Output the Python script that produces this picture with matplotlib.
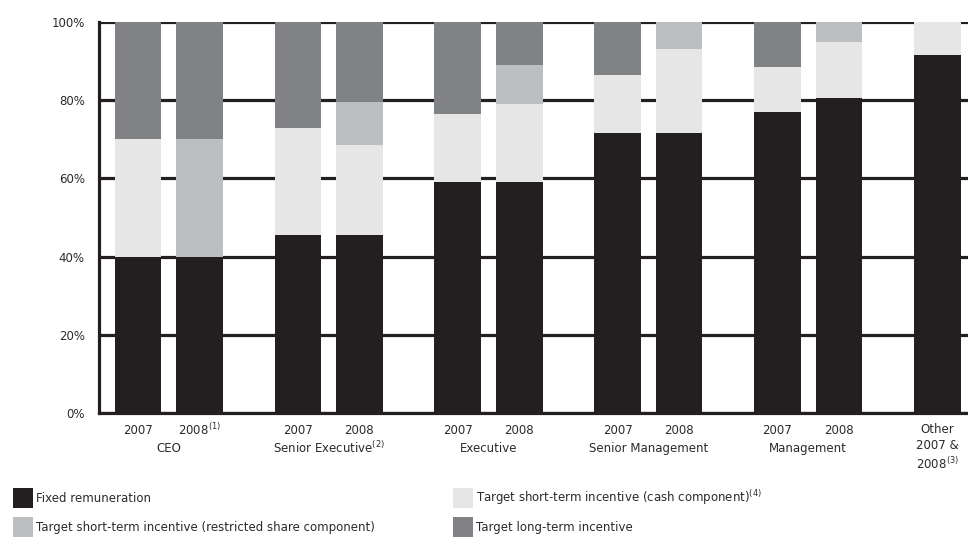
import matplotlib.pyplot as plt
from matplotlib.patches import Rectangle

plt.rcParams['font.family'] = ['DejaVu Sans']

# remuneration mix per role and year (% of total target pay)
years = ['2007', '2008$^{(1)}$', '2007', '2008', '2007', '2008',
         '2007', '2008', '2007', '2008', '']
groups = ['CEO', 'Senior Executive$^{(2)}$', 'Executive', 'Senior Management', 'Management']
fixed = [40, 40, 45.5, 45.5, 59, 59, 71.5, 71.5, 77, 80.5, 91.5]
sti_cash = [30, 0, 27.5, 23, 17.5, 20, 15, 21.5, 11.5, 14.5, 8.5]
sti_shares = [0, 30, 0, 11, 0, 10, 0, 7, 0, 5, 0]
lti = [30, 30, 27, 20.5, 23.5, 11, 13.5, 0, 11.5, 0, 0]

positions = [0, 1, 2.6, 3.6, 5.2, 6.2, 7.8, 8.8, 10.4, 11.4, 13.0]

c_fixed = '#231f20'
c_cash = '#e6e6e7'
c_shares = '#bcbec0'
c_lti = '#808285'
c_text = '#2a2a2a'
fs = 8.5

fig = plt.figure(figsize=(9.68, 5.37), dpi=100)
ax = fig.add_axes([0.102, 0.231, 0.898, 0.728])

w = 0.76
bottom = [0] * len(fixed)
for vals, col in [(fixed, c_fixed), (sti_cash, c_cash), (sti_shares, c_shares), (lti, c_lti)]:
    ax.bar(positions, vals, w, bottom=bottom, color=col, linewidth=0, zorder=3)
    bottom = [b + v for b, v in zip(bottom, vals)]

ax.set_xlim(-0.64, 13.5)
ax.set_ylim(0, 100)
ax.set_yticks([0, 20, 40, 60, 80, 100])
ax.set_yticklabels(['0%', '20%', '40%', '60%', '80%', '100%'], fontsize=fs, color=c_text)
ax.yaxis.grid(True, color=c_fixed, linewidth=2.3)
ax.set_axisbelow(True)
ax.tick_params(axis='y', length=0, pad=10)
ax.set_xticks([])
for s in ['top', 'right']:
    ax.spines[s].set_visible(False)
for s in ['left', 'bottom']:
    ax.spines[s].set_linewidth(2.3)
    ax.spines[s].set_color(c_fixed)
    ax.spines[s].set_zorder(4)

# year labels under each bar and group names under each pair
for x, yr in zip(positions, years):
    if yr:
        ax.text(x, -4.4, yr, ha='center', va='center', fontsize=fs, color=c_text)
for i, g in enumerate(groups):
    x = (positions[2 * i] + positions[2 * i + 1]) / 2
    ax.text(x, -9, g, ha='center', va='center', fontsize=fs, color=c_text)
ax.text(positions[-1], -2.6, 'Other\n2007 &\n2008$^{(3)}$', ha='center', va='top',
        fontsize=fs, color=c_text, linespacing=1.3)

# legend drawn as plain squares and labels
items = [(13, 488, c_fixed, 'Fixed remuneration'),
         (13, 517, c_shares, 'Target short-term incentive (restricted share component)'),
         (453, 488, c_cash, 'Target short-term incentive (cash component)$^{(4)}$'),
         (453, 517, c_lti, 'Target long-term incentive')]
W, H = 968, 537
for px, py, col, label in items:
    fig.add_artist(Rectangle((px / W, 1 - (py + 20) / H), 20 / W, 20 / H,
                             transform=fig.transFigure, color=col, linewidth=0))
    fig.text((px + 23) / W, 1 - (py + 10) / H, label, ha='left', va='center',
             fontsize=fs, color=c_text)

fig.savefig('out.png', dpi=100)
